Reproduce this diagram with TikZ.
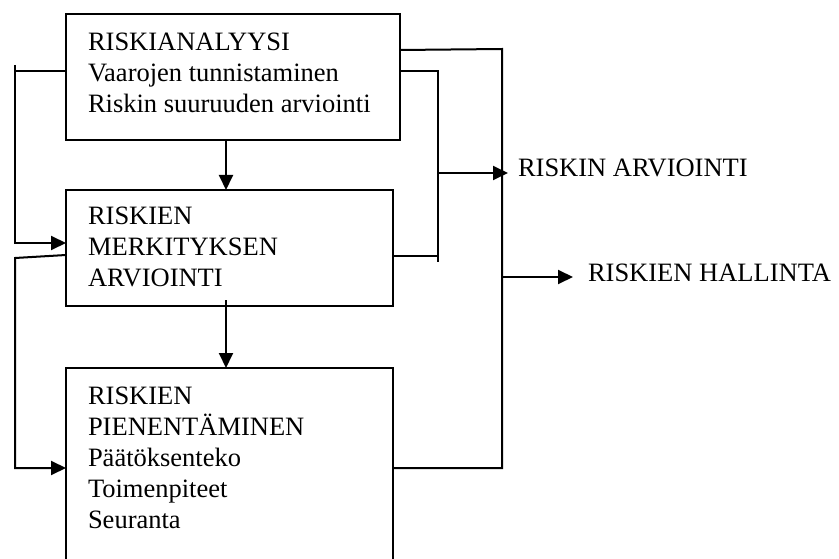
\documentclass[tikz,border=0pt]{standalone}
\usepackage{fontspec}
\setmainfont{Liberation Serif}
\usetikzlibrary{arrows.meta}
\begin{document}
\begin{tikzpicture}[x=1pt,y=-1pt,
  line width=2pt,
  box/.style={draw, line width=2pt, rectangle, inner sep=0pt, outer sep=0pt},
  txt/.style={anchor=north west, inner sep=0pt, align=left, font=\fontsize{26.5}{31}\selectfont},
  lbl/.style={anchor=base west, inner sep=0pt, font=\fontsize{26.5}{31}\selectfont},
  arr/.style={-{Triangle[length=15pt,width=14pt]}}]
\useasboundingbox (0,0) rectangle (839,559);
\clip (0,0) rectangle (839,559);
% boxes
\node[box, minimum width=334pt, minimum height=126pt] (b1) at (233,77) {};
\node[box, minimum width=327pt, minimum height=116pt] (b2) at (229.5,248) {};
\node[box, minimum width=327pt, minimum height=232pt] (b3) at (229.5,484) {};
% texts
\node[txt] (t1) at (87,31.6) {RISKIANALYYSI\\Vaarojen tunnistaminen\\Riskin suuruuden arviointi};
\node[txt] (t2) at (87,205.6) {RISKIEN\\MERKITYKSEN\\ARVIOINTI};
\node[txt] (t3) at (87,385.6) {RISKIEN\\PIENENTÄMINEN\\Päätöksenteko\\Toimenpiteet\\Seuranta};
\node[lbl] (ra) at (517,177) {RISKIN ARVIOINTI};
\node[lbl] (rh) at (587,281) {RISKIEN HALLINTA};
% coordinates
\coordinate (b1l) at (66,71);
\coordinate (l1t) at (15,65);
\coordinate (l1a) at (15,71);
\coordinate (l1b) at (15,243);
\coordinate (b2l) at (66,243);
\coordinate (b2l2) at (66,255);
\coordinate (l2a) at (15,258);
\coordinate (l2b) at (15,468);
\coordinate (b3l) at (66,468);
\coordinate (b1r1) at (400,50);
\coordinate (r1a) at (502,49);
\coordinate (r1b) at (502,468);
\coordinate (b3r) at (393,468);
\coordinate (b1r2) at (400,71);
\coordinate (r2a) at (438,71);
\coordinate (r2b) at (438,262);
\coordinate (b2r) at (393,256);
\coordinate (r2c) at (438,256);
\coordinate (r2m) at (438,173);
\coordinate (ram) at (508,173);
\coordinate (r1m) at (502,277);
\coordinate (rhm) at (573,277);
\coordinate (b2s) at (226,300);
% connectors
\draw[arr] (b1.south -| 226,0) -- (b2.north -| 226,0);
\draw[arr] (b2s) -- (b3.north -| 226,0);
\draw (b1l) -- (l1a);
\draw[arr] (l1t) -- (l1b) -- (b2l);
\draw[arr] (b2l2) -- (l2a) -- (l2b) -- (b3l);
\draw (b1r1) -- (r1a) -- (r1b) -- (b3r);
\draw (b1r2) -- (r2a) -- (r2b);
\draw (b2r) -- (r2c);
\draw[arr] (r2m) -- (ram);
\draw[arr] (r1m) -- (rhm);
\end{tikzpicture}
\end{document}
